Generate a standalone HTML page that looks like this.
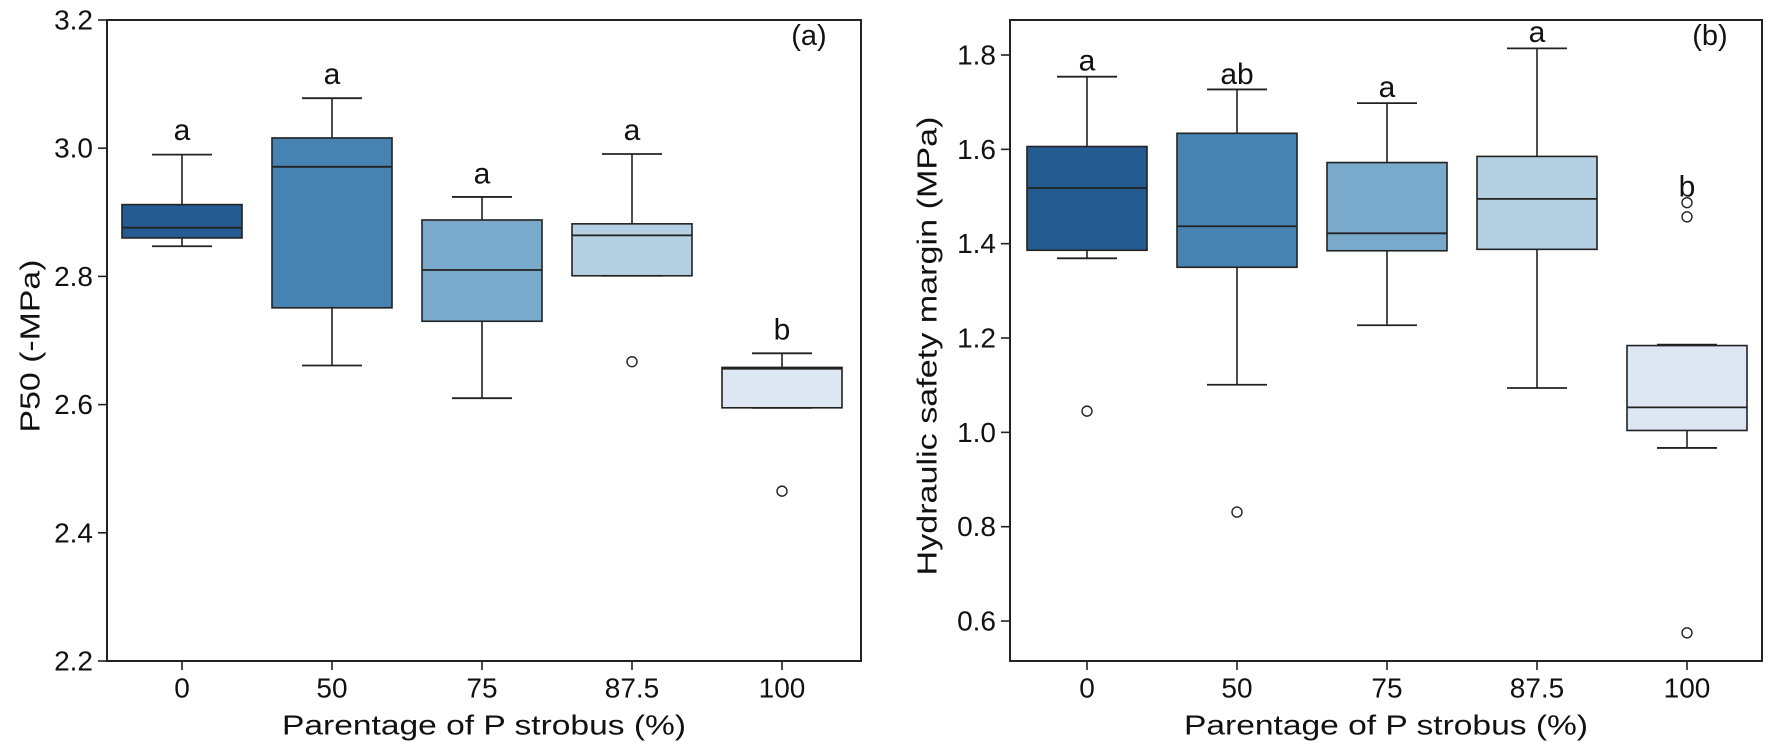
<!DOCTYPE html>
<html><head><meta charset="utf-8"><style>
html,body{margin:0;padding:0;background:#fff;}
svg{display:block;font-family:"Liberation Sans",Arial,sans-serif;}
</style></head><body>
<svg id="chart" width="1772" height="751" viewBox="0 0 1772 751" xmlns="http://www.w3.org/2000/svg"></svg>
<script>
const categories = ["0","50","75","87.5","100"];
const colors = ["#245b91","#4683b3","#79aacb","#b5d0e2","#dce7f3"];
// Panel A: P50 (-MPa)
const aWhiskLow = [2.847,2.661,2.610,2.801,2.595];
const aQ1 = [2.860,2.751,2.730,2.801,2.595];
const aMedian = [2.876,2.971,2.810,2.864,2.656];
const aQ3 = [2.912,3.016,2.888,2.882,2.658];
const aWhiskHigh = [2.990,3.078,2.924,2.991,2.680];
const aOutliers = [[],[],[],[2.667],[2.465]];
const aLetters = ["a","a","a","a","b"];
const aLetterY = [3.028,3.115,2.960,3.028,2.716];
const aTicks = [2.2,2.4,2.6,2.8,3.0,3.2];
// Panel B: Hydraulic safety margin (MPa)
const bWhiskLow = [1.369,1.101,1.227,1.094,0.967];
const bQ1 = [1.386,1.350,1.385,1.388,1.004];
const bMedian = [1.518,1.437,1.422,1.495,1.053];
const bQ3 = [1.606,1.634,1.572,1.585,1.184];
const bWhiskHigh = [1.754,1.727,1.698,1.814,1.186];
const bOutliers = [[1.045],[0.831],[],[],[1.487,1.457,0.575]];
const bLetters = ["a","ab","a","a","b"];
const bLetterY = [1.787,1.759,1.731,1.848,1.52];
const bTicks = [0.6,0.8,1.0,1.2,1.4,1.6,1.8];

const NS="http://www.w3.org/2000/svg";
const svg=document.getElementById('chart');
function mk(tag,attrs,parent){const e=document.createElementNS(NS,tag);for(const k in attrs)e.setAttribute(k,attrs[k]);(parent||svg).appendChild(e);return e;}

function panel(cfg){
  const g=mk('g',{});
  
  
  const y=v=>cfg.y0+(cfg.v0-v)*cfg.ppu;
  const x=i=>cfg.cx0+i*150;
  categories.forEach((c,i)=>{
    const bg=mk('g',{},g);
    
    
    const cx=x(i);
    mk('line',{x1:cx,x2:cx,y1:y(cfg.q3[i]),y2:y(cfg.wh[i]),stroke:'#222','stroke-width':1.6},bg);
    mk('line',{x1:cx,x2:cx,y1:y(cfg.q1[i]),y2:y(cfg.wl[i]),stroke:'#222','stroke-width':1.6},bg);
    mk('line',{x1:cx-30,x2:cx+30,y1:y(cfg.wh[i]),y2:y(cfg.wh[i]),stroke:'#222','stroke-width':1.8},bg);
    mk('line',{x1:cx-30,x2:cx+30,y1:y(cfg.wl[i]),y2:y(cfg.wl[i]),stroke:'#222','stroke-width':1.8},bg);
    mk('rect',{x:cx-60,y:y(cfg.q3[i]),width:120,height:Math.max(1,y(cfg.q1[i])-y(cfg.q3[i])),fill:colors[i],stroke:'#222','stroke-width':1.6},bg);
    mk('line',{x1:cx-60,x2:cx+60,y1:y(cfg.med[i]),y2:y(cfg.med[i]),stroke:'#222','stroke-width':1.8},bg);
    cfg.out[i].forEach(o=>{
      const c2=mk('circle',{cx:cx,cy:y(o),r:5,fill:'#fff',stroke:'#222','stroke-width':1.4},bg);
      
      
    });
    const t=mk('text',{x:cx,y:y(cfg.ly[i]),'text-anchor':'middle','dominant-baseline':'central','font-size':30,fill:'#111'},g);
    t.textContent=cfg.letters[i];
    
    
    mk('line',{x1:cx,x2:cx,y1:cfg.bottom,y2:cfg.bottom+9,stroke:'#222','stroke-width':1.6},g);
    const tl=mk('text',{x:cx,y:688,'text-anchor':'middle','dominant-baseline':'central','font-size':28,fill:'#111'},g);
    tl.textContent=c;
    
    
  });
  cfg.ticks.forEach(v=>{
    mk('line',{x1:cfg.left-9,x2:cfg.left,y1:y(v),y2:y(v),stroke:'#222','stroke-width':1.6},g);
    const t=mk('text',{x:cfg.left-14,y:y(v),'text-anchor':'end','dominant-baseline':'central','font-size':28,fill:'#111'},g);
    t.textContent=v.toFixed(1);
    
    
  });
  const fr=mk('rect',{x:cfg.left,y:20,width:cfg.right-cfg.left,height:cfg.bottom-20,fill:'none',stroke:'#222','stroke-width':2},g);
  
  
  const xl=mk('text',{x:(cfg.left+cfg.right)/2,y:725,'text-anchor':'middle','dominant-baseline':'central','font-size':28,fill:'#111',textLength:404,lengthAdjust:'spacingAndGlyphs'},g);
  xl.textContent='Parentage of P strobus (%)';
  
  
  const yl=mk('text',{x:0,y:0,transform:`translate(${cfg.ytx},346) rotate(-90)`,'text-anchor':'middle','dominant-baseline':'central','font-size':28,fill:'#111',textLength:cfg.ytLen,lengthAdjust:'spacingAndGlyphs'},g);
  yl.textContent=cfg.ytitle;
  
  
  const pl=mk('text',{x:cfg.right-52,y:36,'text-anchor':'middle','dominant-baseline':'central','font-size':29,fill:'#111'},g);
  pl.textContent=cfg.label;
  
  
}
panel({name:'panel-a',id:'a',y0:20,v0:3.2,ppu:641,cx0:182,left:107,right:861,bottom:661,
  wl:aWhiskLow,q1:aQ1,med:aMedian,q3:aQ3,wh:aWhiskHigh,out:aOutliers,letters:aLetters,ly:aLetterY,ticks:aTicks,
  ytitle:'P50 (-MPa)',ytx:30,ytLen:173,label:'(a)'});
panel({name:'panel-b',id:'b',y0:55,v0:1.8,ppu:471.7,cx0:1087,left:1010,right:1762,bottom:661,
  wl:bWhiskLow,q1:bQ1,med:bMedian,q3:bQ3,wh:bWhiskHigh,out:bOutliers,letters:bLetters,ly:bLetterY,ticks:bTicks,
  ytitle:'Hydraulic safety margin  (MPa)',ytx:927,ytLen:459,label:'(b)'});
</script>
</body></html>
